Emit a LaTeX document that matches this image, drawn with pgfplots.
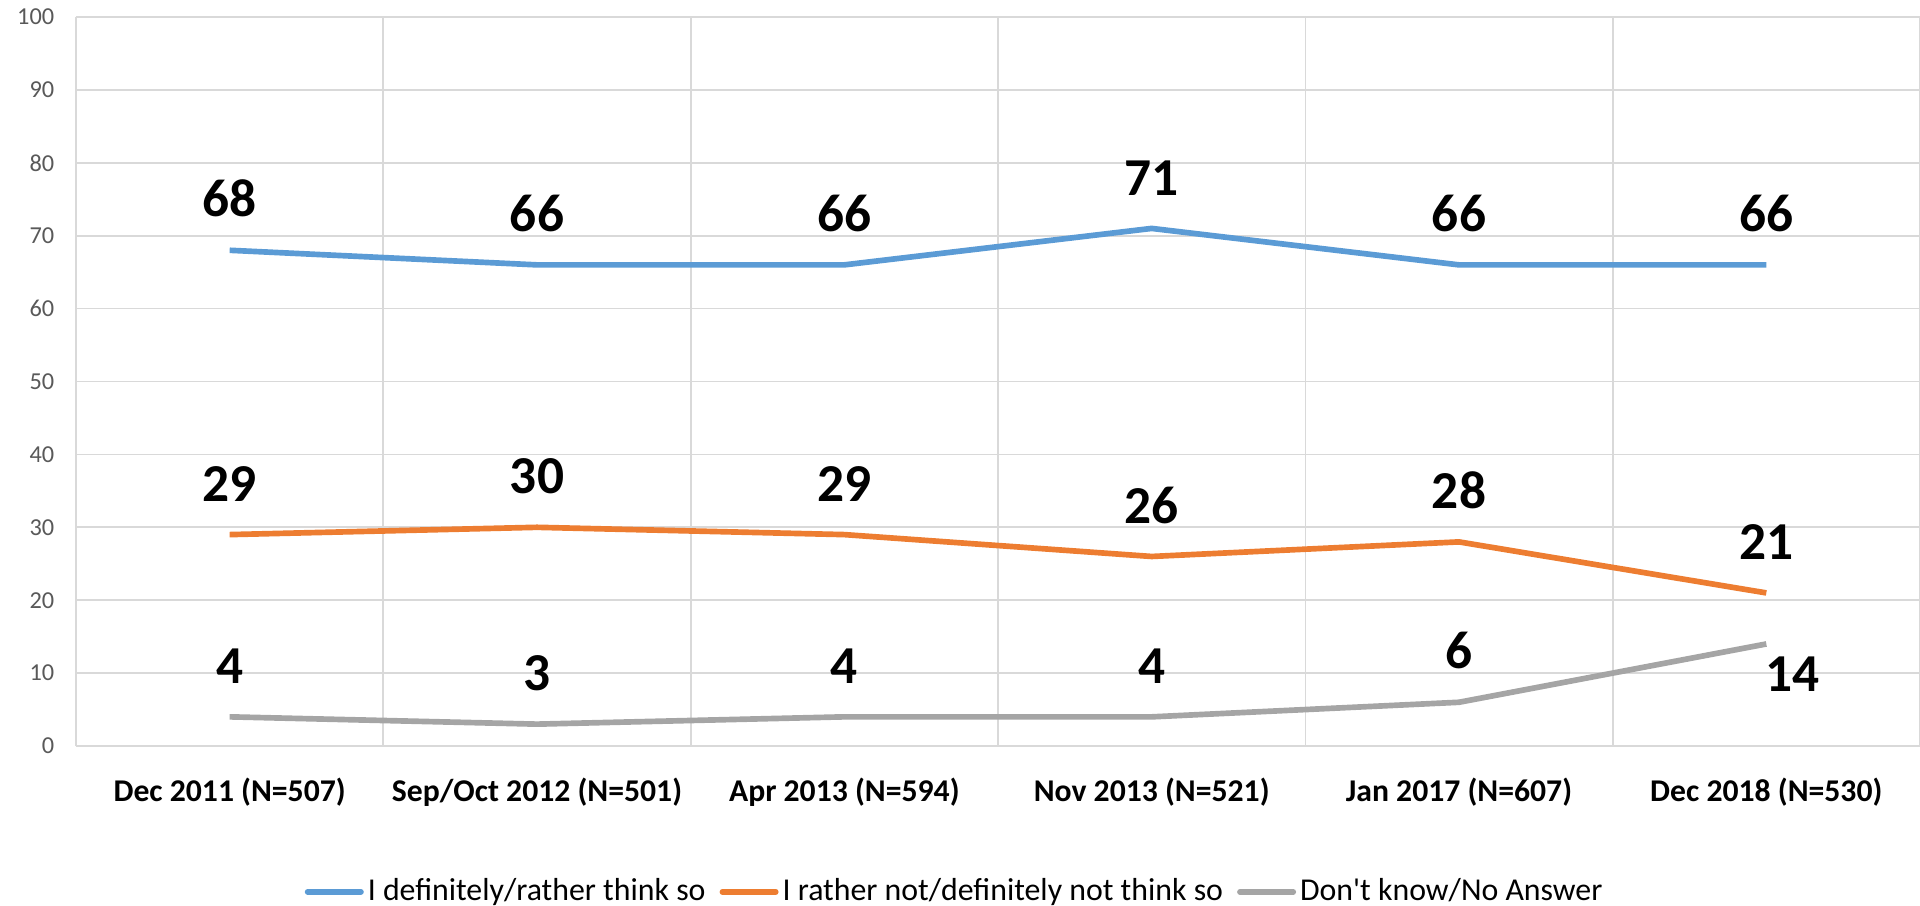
\documentclass[border=0pt]{standalone}
\usepackage{fontspec}
\setmainfont{Carlito}
\usepackage{pgfplots}
\pgfplotsset{compat=1.18}
\definecolor{sblue}{HTML}{5B9BD5}
\definecolor{sorange}{HTML}{ED7D31}
\definecolor{sgray}{HTML}{A5A5A5}
\definecolor{gridgray}{HTML}{D9D9D9}
\definecolor{tickgray}{HTML}{595959}
\pgfplotsset{
  datalabel/.style={
    nodes near coords,
    every node near coord/.append style={
      font=\fontsize{16}{18}\selectfont\bfseries, text=black,
      anchor=base, yshift=10pt, inner sep=0pt},
  },
}
\begin{document}
\begin{tikzpicture}[line join=round, line cap=round]
\useasboundingbox (-22.8pt,-47.7pt) rectangle (553.2pt,223.8pt);
\begin{axis}[
  width=553.2pt, height=218.7pt, scale only axis,
  xmin=-0.5, xmax=5.5, ymin=0, ymax=100,
  axis line style={draw=none},
  xtick={0,...,5},
  xticklabels={Dec 2011 (N=507), Sep/Oct 2012 (N=501), Apr 2013 (N=594),
    Nov 2013 (N=521), Jan 2017 (N=607), Dec 2018 (N=530)},
  minor xtick={-0.5,0.5,...,5.5},
  ytick={0,10,...,100},
  xminorgrids=true, ymajorgrids=true,
  major grid style={color=gridgray, line width=0.5pt},
  minor grid style={color=gridgray, line width=0.5pt},
  major tick length=0pt, minor tick length=0pt,
  /pgf/number format/assume math mode=true,
  yticklabel style={font=\fontsize{7.3}{8}\selectfont, text=tickgray, xshift=-3pt},
  xticklabel style={font=\fontsize{9.5}{11}\selectfont\bfseries, text=black, yshift=-6pt},
  clip=false,
  legend columns=3,
  legend style={at={(0.477,-0.2)}, anchor=center, draw=none, fill=none,
    font=\fontsize{9.55}{11}\selectfont,
    nodes={inner sep=1.2pt},
    /tikz/every even column/.append style={column sep=3pt}},
  legend image code/.code={\draw[#1, line width=1.7pt, line cap=round] (0pt,0pt) -- (16pt,0pt);},
]
% agree
\addplot[sblue, line width=1.7pt, datalabel] coordinates {
  (0,68) (1,66) (2,66) (3,71) (4,66) (5,66)};
\addlegendentry{I definitely/rather think so}
% disagree
\addplot[sorange, line width=1.7pt, datalabel] coordinates {
  (0,29) (1,30) (2,29) (3,26) (4,28) (5,21)};
\addlegendentry{I rather not/definitely not think so}
% don't know
\addplot[sgray, line width=1.7pt] coordinates {
  (0,4) (1,3) (2,4) (3,4) (4,6) (5,14)};
\addlegendentry{Don\textquotesingle t know/No Answer}
\addplot[draw=none, forget plot, datalabel] coordinates {
  (0,4) (1,3) (2,4) (3,4) (4,6)};
\addplot[draw=none, forget plot, nodes near coords,
  every node near coord/.append style={
    font=\fontsize{16}{18}\selectfont\bfseries, text=black,
    anchor=north, yshift=-3.6pt, xshift=7.8pt, inner sep=0pt}]
  coordinates {(5,14)};
\end{axis}
\end{tikzpicture}
\end{document}
